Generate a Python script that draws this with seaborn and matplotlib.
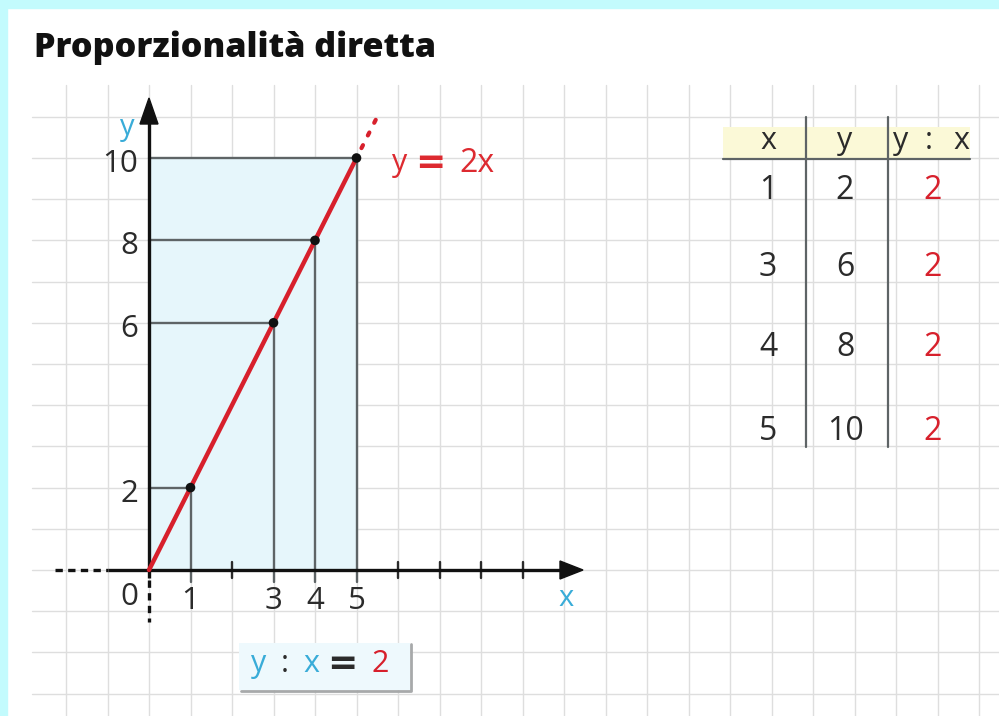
import matplotlib
matplotlib.use("Agg")
import matplotlib.pyplot as plt
import seaborn as sns
import pandas as pd
from matplotlib.patches import Rectangle, Polygon

# ---- data ---------------------------------------------------------------
title = "Proporzionalità diretta"
x_values = [1, 3, 4, 5]
y_values = [2, 6, 8, 10]
ratio_values = [2, 2, 2, 2]
ratio_constant = 2
x_tick_labels = ["1", "3", "4", "5"]
y_tick_labels = ["2", "6", "8", "10"]
minor_x_ticks = [2, 6, 7, 8, 9]
table_header = ["x", "y"]

# ---- layout -------------------------------------------------------------
W, H = 999, 716
UX, UY = 41.5, 41.2          # pixels per grid unit
OX, OY = 149, 570            # pixel position of the origin


def X(px):
    return (px - OX) / UX


def Y(py):
    return (OY - py) / UY


BLUE = "#39acd8"
RED = "#d7202c"
DARK = "#2b2b2b"
GUIDE = "#5e6466"
GRID = "#dedede"
FONT = "Open Sans"

sns.set_theme(style="white")
plt.rcParams["font.family"] = [FONT, "DejaVu Sans"]

fig = plt.figure(figsize=(W / 100, H / 100), dpi=100, facecolor="white")
ax = fig.add_axes([0, 0, 1, 1])
ax.axis("off")

# light cyan frame on top and left
fig.patches.append(Rectangle((0, 1 - 8 / H), 1, 8 / H, transform=fig.transFigure,
                             color="#c3fbfd", zorder=10))
fig.patches.append(Rectangle((0, 0), 7 / W, 1, transform=fig.transFigure,
                             color="#c3fbfd", zorder=10))

# squared paper
gx0, gy1 = X(32), Y(85)
for k in range(-2, 21):
    ax.plot([k, k], [Y(H), gy1], color=GRID, lw=1.0, zorder=0)
for j in range(-3, 12):
    ax.plot([gx0, X(W)], [j, j], color=GRID, lw=1.0, zorder=0)

# shaded region under the last point
ax.add_patch(Rectangle((0, 0), max(x_values), max(y_values),
                       facecolor="#e6f6fb", edgecolor="none", zorder=1))

# guide lines from each point to the axes
for xv, yv in zip(x_values, y_values):
    ax.plot([0, xv], [yv, yv], color=GUIDE, lw=1.7, zorder=2)
    ax.plot([xv, xv], [-0.3, yv], color=GUIDE, lw=1.7, zorder=2)
for xv in minor_x_ticks:
    ax.plot([xv, xv], [-0.2, 0.2], color=DARK, lw=1.7, zorder=3)

# axes with arrows
ax.plot([X(108), X(582) - 0.4], [0, 0], color="#111111", lw=2.4, zorder=4,
        solid_capstyle="butt")
ax.plot([X(55), X(108)], [0, 0], color="#111111", lw=2.4, zorder=4,
        linestyle=(0, (2.2, 1.6)))
ax.add_patch(Polygon([[X(583), 0], [X(560), 9 / UY], [X(560), -9 / UY]],
                     closed=True, color="#111111", zorder=4))
ax.plot([0, 0], [Y(578), Y(120)], color="#111111", lw=2.4, zorder=4,
        solid_capstyle="butt")
ax.plot([0, 0], [Y(580), Y(622)], color="#111111", lw=2.4, zorder=4,
        linestyle=(0, (2.2, 1.6)))
ax.add_patch(Polygon([[0, Y(98)], [-9 / UX, Y(124)], [9 / UX, Y(124)]],
                     closed=True, color="#111111", zorder=4))

# proportional line y = 2x through the origin
line_df = pd.DataFrame({"x": [0] + x_values, "y": [0] + y_values})
sns.lineplot(data=line_df, x="x", y="y", color=RED, lw=3.2, ax=ax,
             sort=False, estimator=None, zorder=5)
# dotted continuation past the last point
ext_x = [max(x_values) + 0.12, max(x_values) + 0.58]
ext_y = [ratio_constant * v for v in ext_x]
ax.plot(ext_x, ext_y, color=RED, lw=3.0, linestyle=(0, (0.8, 2.6)),
        dash_capstyle="round", zorder=5)

pts_df = pd.DataFrame({"x": x_values, "y": y_values})
sns.scatterplot(data=pts_df, x="x", y="y", color="#111111", s=48,
                edgecolor="none", ax=ax, zorder=6)
ax.set_xlim(X(0), X(W))
ax.set_ylim(Y(H), Y(0))
ax.axis("off")

# tick labels
for xv, lab in zip(x_values, x_tick_labels):
    ax.text(xv, Y(601), lab, ha="center", va="center", fontsize=22.5,
            color=DARK, zorder=7)
ax.text(X(138), Y(597), "0", ha="right", va="center", fontsize=22.5,
        color=DARK, zorder=7)
for yv, lab in zip(y_values, y_tick_labels):
    ax.text(X(138), yv - 6 / UY, lab, ha="right", va="center", fontsize=22.5,
            color=DARK, zorder=7)

# axis names
ax.text(X(127), Y(128), "y", ha="center", va="center", fontsize=21,
        color=BLUE, zorder=7)
ax.text(X(566), Y(598), "x", ha="center", va="center", fontsize=21,
        color=BLUE, zorder=7)


def pieces_at(items, py, size):
    """Draw text fragments at given left pixel positions on one line."""
    for txt, left, col, kw in items:
        style = {"fontsize": size}
        style.update(kw)
        ax.text(X(left), Y(py), txt, ha="left", va="center",
                color=col, zorder=7, **style)


BIG_EQ = {"family": ["DejaVu Sans"], "fontweight": "bold", "fontsize": 26}

# line label  y = 2x
pieces_at([("y", 392, "#dd2a30", {}),
           ("=", 415, "#dd2a30", BIG_EQ),
           ("2x", 459, "#dd2a30", {"fontsize": 23})], 163, 22)

# title
ax.text(X(34), Y(48), title, ha="left", va="center", fontsize=24.6,
        fontweight="heavy", color="#111111", zorder=7)

# ---- table of values ----------------------------------------------------
col_x = [768, 845, 933]
row_y = [190, 268, 348, 432]
ax.add_patch(Rectangle((X(723), Y(159)), X(970) - X(723), Y(127) - Y(159),
                       facecolor="#fbf9d7", edgecolor="none", zorder=1))
ax.plot([X(723), X(970)], [Y(159), Y(159)], color=GUIDE, lw=1.6, zorder=2)
for lx in (806, 888):
    ax.plot([X(lx), X(lx)], [Y(117), Y(447)], color=GUIDE, lw=1.6, zorder=2)
for cx, head in zip(col_x, table_header):
    ax.text(X(cx), Y(141), head, ha="center", va="center", fontsize=22,
            color=DARK, zorder=7)
pieces_at([("y", 893, DARK, {}), (":", 925, DARK, {}), ("x", 953, DARK, {})],
          141, 22)
for ry, xv, yv, rv in zip(row_y, x_values, y_values, ratio_values):
    ax.text(X(col_x[0]), Y(ry), str(xv), ha="center", va="center",
            fontsize=23, color=DARK, zorder=7)
    ax.text(X(col_x[1]), Y(ry), str(yv), ha="center", va="center",
            fontsize=23, color=DARK, zorder=7)
    ax.text(X(col_x[2]), Y(ry), str(rv), ha="center", va="center",
            fontsize=23, color=RED, zorder=7)

# ---- boxed ratio --------------------------------------------------------
ax.add_patch(Rectangle((X(239), Y(690)), X(410) - X(239), Y(643) - Y(690),
                       facecolor="#eef9fd", edgecolor="none", zorder=1))
ax.plot([X(411), X(411), X(241)], [Y(644), Y(691), Y(691)], color="#a7a9aa",
        lw=2.0, zorder=2)
pieces_at([("y", 251, BLUE, {}),
           (":", 281, DARK, {}),
           ("x", 303, BLUE, {}),
           ("=", 327, DARK, BIG_EQ),
           (str(ratio_constant), 371, RED, {})], 664, 22)

fig.savefig("out.png", dpi=100, facecolor="white")
